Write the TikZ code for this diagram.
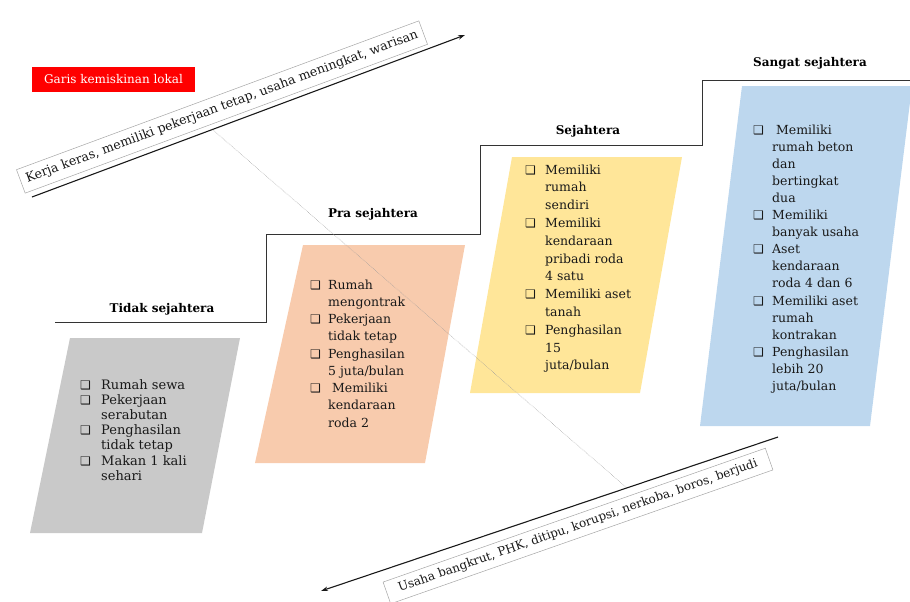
\documentclass[tikz,border=0pt]{standalone}
\usepackage{fontspec}
\setmainfont{DejaVu Serif}
\newfontfamily\symfont{DejaVu Sans}
\usetikzlibrary{arrows.meta}
\definecolor{cgray}{HTML}{C9C9C9}
\definecolor{cpeach}{HTML}{F8CBAD}
\definecolor{cyellow}{HTML}{FFE699}
\definecolor{cblue}{HTML}{BDD7EE}
\definecolor{cred}{HTML}{FF0000}
\newcommand{\bx}{{\symfont\fontsize{12}{12}\selectfont ❑}}
\tikzset{
  stair/.style={draw=black!80, line width=1pt},
  lbl/.style={font=\bfseries\fontsize{12}{14}\selectfont, inner sep=0},
  listnode/.style={anchor=base west, inner sep=0, text=black!90},
  rotbox/.style={draw=black!35, line width=0.5pt, inner sep=0, text=black!90},
  trend/.style={line width=1.1pt, draw=black!90},
  dotline/.style={draw=black!40, line width=0.5pt, densely dotted},
}
\begin{document}
\begin{tikzpicture}[x=1pt,y=-1pt]
\useasboundingbox (0,0) rectangle (910,602);
% staircase
\draw[stair] (55,322) -- (266,322) -- (266,234) -- (480,234) -- (480,145) -- (702,145) -- (702,80) -- (910,80);
% parallelograms
\fill[cgray] (70,338) -- (240,338) -- (202,533) -- (30,533) -- cycle;
\fill[cpeach] (303,245) -- (465,245) -- (425,463) -- (255,463) -- cycle;
\fill[cyellow] (512,157) -- (682,157) -- (640,393) -- (470,393) -- cycle;
\fill[cblue] (742,86) -- (912,86) -- (870,426) -- (700,426) -- cycle;
% level labels
\node[lbl] (l1) at (162,309) {Tidak sejahtera};
\node[lbl] (l2) at (373,214) {Pra sejahtera};
\node[lbl] (l3) at (588,131) {Sejahtera};
\node[lbl] (l4) at (810,63) {Sangat sejahtera};
% lists
\node[listnode, font=\fontsize{13}{15.2}\selectfont] (t1) at (80,389) {\begin{tabular}[t]{@{}p{21pt}@{}l@{}}
\bx & Rumah sewa\\
\bx & Pekerjaan\\
 & serabutan\\
\bx & Penghasilan\\
 & tidak tetap\\
\bx & Makan 1 kali\\
 & sehari
\end{tabular}};
\node[listnode, font=\fontsize{12.5}{17.25}\selectfont] (t2) at (310,289) {\begin{tabular}[t]{@{}p{18pt}@{}l@{}}
\bx & Rumah\\
 & mengontrak\\
\bx & Pekerjaan\\
 & tidak tetap\\
\bx & Penghasilan\\
 & 5 juta/bulan\\
\bx & \ Memiliki\\
 & kendaraan\\
 & roda 2
\end{tabular}};
\node[listnode, font=\fontsize{12.5}{17.8}\selectfont] (t3) at (525,174) {\begin{tabular}[t]{@{}p{20pt}@{}l@{}}
\bx & Memiliki\\
 & rumah\\
 & sendiri\\
\bx & Memiliki\\
 & kendaraan\\
 & pribadi roda\\
 & 4 satu\\
\bx & Memiliki aset\\
 & tanah\\
\bx & Penghasilan\\
 & 15\\
 & juta/bulan
\end{tabular}};
\node[listnode, font=\fontsize{12.5}{17.1}\selectfont] (t4) at (753,134) {\begin{tabular}[t]{@{}p{19pt}@{}l@{}}
\bx & \ Memiliki\\
 & rumah beton\\
 & dan\\
 & bertingkat\\
 & dua\\
\bx & Memiliki\\
 & banyak usaha\\
\bx & Aset\\
 & kendaraan\\
 & roda 4 dan 6\\
\bx & Memiliki aset\\
 & rumah\\
 & kontrakan\\
\bx & Penghasilan\\
 & lebih 20\\
 & juta/bulan
\end{tabular}};
% red label
\node[fill=cred, text=white, minimum width=163pt, minimum height=25pt, inner sep=0, font=\fontsize{12}{14}\selectfont] (red) at (113.5,79.5) {Garis kemiskinan lokal};
% trend arrows
\coordinate (up1) at (32,197);
\coordinate (up2) at (465,35);
\coordinate (dn1) at (778,437);
\coordinate (dn2) at (321,591);
\coordinate (d1) at (213,130);
\coordinate (d2) at (627,488);
\draw[dotline] (d1) -- (d2);
\draw[trend, -{Stealth[length=7pt,width=4.5pt]}] (up1) -- (up2);
\draw[trend, -{Stealth[length=7pt,width=4.5pt]}] (dn1) -- (dn2);
\node[rotbox, fill=white, rotate=20.3, minimum width=429pt, minimum height=25pt, font=\fontsize{12.6}{14}\selectfont] (tb) at (222,107) {Kerja keras, memiliki pekerjaan tetap, usaha meningkat, warisan};
\node[rotbox, fill=white, rotate=19.3, minimum width=405pt, minimum height=23pt, font=\fontsize{12}{14}\selectfont] (bb) at (578,526) {Usaha bangkrut, PHK, ditipu, korupsi, nerkoba, boros, berjudi};
\end{tikzpicture}
\end{document}
